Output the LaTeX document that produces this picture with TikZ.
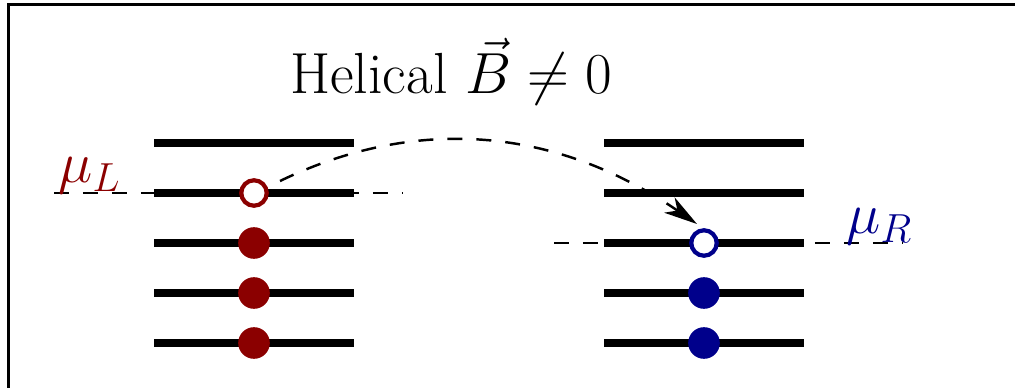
\RequirePackage{fix-cm}
\documentclass[tikz,border=0pt]{standalone}
\usetikzlibrary{arrows.meta}
\definecolor{lred}{RGB}{139,0,0}
\definecolor{rblue}{RGB}{0,0,139}
\begin{document}
\begin{tikzpicture}[x=0.02cm,y=-0.02cm,
  levelline/.style={line width=4pt},
  dashline/.style={line width=1.4pt,dash pattern=on 8.5pt off 8pt},
  full/.style={circle,inner sep=0pt,minimum size=18pt,fill=#1},
  hole/.style={circle,inner sep=0pt,minimum size=14.5pt,draw=#1,line width=2.4pt,fill=white},
  big/.style={font=\fontsize{33}{40}\selectfont}]
\useasboundingbox (0,0) rectangle (1015,388);
\clip (0,0) rectangle (1015,388);
\draw[line width=1.7pt] (8.5,4.5) rectangle (1040,420);
% chemical potential lines
\coordinate (dLa) at (54,193); \coordinate (dLb) at (402,193);
\coordinate (dRa) at (554,243); \coordinate (dRb) at (902,243);
\draw[dashline] (dLa) -- (dLb);
\draw[dashline] (dRa) -- (dRb);
% levels
\foreach \y in {143,193,243,293,343}{
  \draw[levelline] (154,\y) -- (354,\y);
  \draw[levelline] (604,\y) -- (804,\y);
}
% occupations
\node[hole=lred] (hL) at (254,193) {};
\node[full=lred] (fL1) at (254,243) {};
\node[full=lred] (fL2) at (254,293) {};
\node[full=lred] (fL3) at (254,343) {};
\node[hole=rblue] (hR) at (704,243) {};
\node[full=rblue] (fR1) at (704,293) {};
\node[full=rblue] (fR2) at (704,343) {};
% tunneling arrow
\coordinate (as) at (280,181);
\coordinate (ac1) at (418.7,114.3);
\coordinate (ac2) at (557.7,128.3);
\coordinate (ae) at (697,224);
\draw[dashline,-{Stealth[length=19pt,width=10.5pt,inset=5.5pt]}] (as) .. controls (ac1) and (ac2) .. (ae);
% labels
\node[big,anchor=base] (title) at (451,94) {Helical $\vec{B}\neq 0$};
\node[big,anchor=base west,text=lred,inner sep=0pt] (muL) at (58,183) {$\mu_L$};
\node[big,anchor=base west,text=rblue,inner sep=0pt] (muR) at (846,234) {$\mu_R$};
\end{tikzpicture}
\end{document}
